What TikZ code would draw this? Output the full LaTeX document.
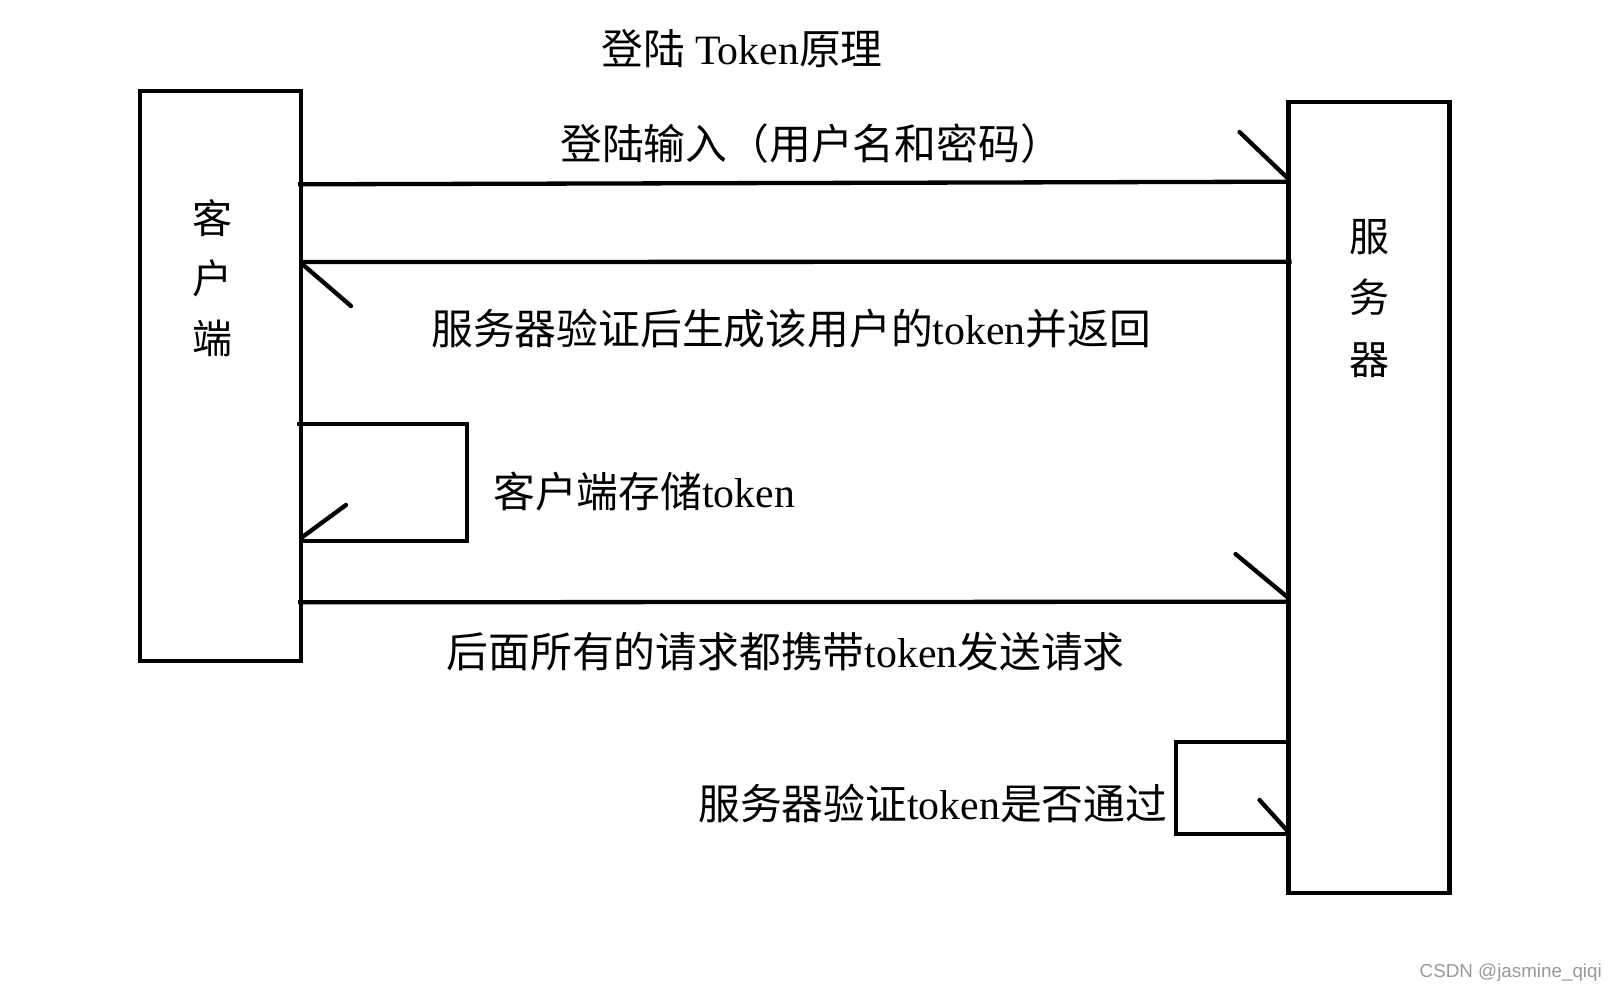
\documentclass[tikz,border=0pt]{standalone}
\usepackage{fontspec}
\setmainfont{Liberation Serif}
\newfontfamily\cjk{Noto Sans CJK SC}
\newfontfamily\wmfont{Liberation Sans}
\newcommand\zh[1]{{\cjk #1}}
\tikzset{
  box/.style={draw, line width=4.3pt, minimum width=161pt, inner sep=0pt, outer sep=0pt},
  wire/.style={line width=4.3pt},
  barb/.style={line width=4.3pt, line cap=round},
  lbl/.style={inner sep=0pt, anchor=base west, font=\fontsize{41.8}{48}\selectfont},
  vlbl/.style={inner sep=0pt, anchor=center, align=center, font=\fontsize{40}{60}\selectfont\cjk},
}
\begin{document}
\begin{tikzpicture}[x=1pt, y=-1pt]
\fill[white] (0,0) rectangle (1617,991);
\useasboundingbox (0,0) rectangle (1617,991);

% boxes
\node[box, minimum height=570.3pt] (client) at (220.5,375.85) {};
\node[box, minimum height=791.6pt] (server) at (1369,497.5) {};

% vertical labels
\node[vlbl] (clientlbl) at (212.5,278) {客\\户\\端};
\node[vlbl, font=\fontsize{40}{61.5}\selectfont\cjk] (serverlbl) at (1369,298.5) {服\\务\\器};

% title
\node[lbl] (title) at (601,64) {\zh{登陆} Token\zh{原理}};

% step 1: login
\draw[wire] ([xshift=-3pt]client.east |- 0,184.3) -- (server.west |- 0,181.7);
\draw[barb] (server.west |- 0,179) -- ++(-49,-47);
\node[lbl] (l1) at (560,159) {\zh{登陆输入（用户名和密码）}};

% step 2: token returned
\draw[wire] (client.east |- 0,262) -- ([xshift=3pt]server.west |- 0,261.7);
\draw[barb] (client.east |- 0,263) -- ++(50,43);
\node[lbl] (l2) at (431,344) {\zh{服务器验证后生成该用户的}token\zh{并返回}};

% step 3: client stores token
\draw[wire] ([xshift=-4pt]client.east |- 0,424) -- ++(170,0) -- ++(0,116.7) -- (client.east |- 0,540.7);
\draw[barb] (client.east |- 0,538) -- ++(45,-33);
\node[lbl] (l3) at (493,507) {\zh{客户端存储}token};

% step 4: requests carry token
\draw[wire] ([xshift=-3pt]client.east |- 0,602.3) -- (server.west |- 0,601.7);
\draw[barb] (server.west |- 0,598) -- ++(-53,-44);
\node[lbl] (l4) at (446.5,667) {\zh{后面所有的请求都携带}token\zh{发送请求}};

% step 5: server verifies token
\draw[wire] (server.west |- 0,742.3) -- ++(-112.8,0) -- ++(0,91.7) -- (server.west |- 0,834);
\draw[barb] (server.west |- 0,832) -- ++(-29,-32);
\node[lbl] (l5) at (698,819) {\zh{服务器验证}token\zh{是否通过}};

% watermark
\node[inner sep=0pt, anchor=east, text=black!40, font=\wmfont\fontsize{18.8}{21}\selectfont] (wm) at (1602,973) {CSDN @jasmine\_qiqi};
\end{tikzpicture}
\end{document}
